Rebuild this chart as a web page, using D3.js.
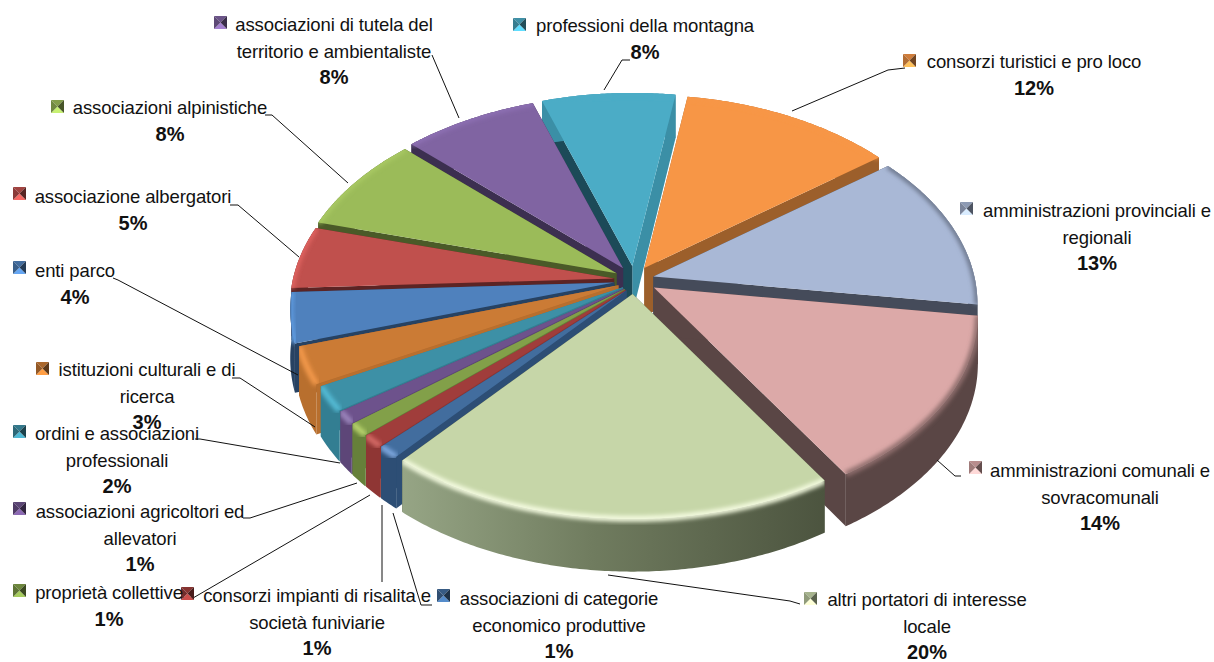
<!DOCTYPE html>
<html>
<head>
<meta charset="utf-8">
<script src="https://cdn.jsdelivr.net/npm/d3@7"></script>
<style>
html, body { margin: 0; padding: 0; background: #fff; }
svg { display: block; }
text { font-family: "Liberation Sans", Arial, sans-serif; fill: #111; }
</style>
</head>
<body>
<div id="chart"></div>
<script>
// slices clockwise, starting from the orange one at the top
const names = [
    ["consorzi turistici e pro loco"],
    ["amministrazioni provinciali e", "regionali"],
    ["amministrazioni comunali e", "sovracomunali"],
    ["altri portatori di interesse", "locale"],
    ["associazioni di categorie", "economico produttive"],
    ["consorzi impianti di risalita e", "società funiviarie"],
    ["proprietà collettive"],
    ["associazioni agricoltori ed", "allevatori"],
    ["ordini e associazioni", "professionali"],
    ["istituzioni culturali e di", "ricerca"],
    ["enti parco"],
    ["associazione albergatori"],
    ["associazioni alpinistiche"],
    ["associazioni di tutela del", "territorio e ambientaliste"],
    ["professioni della montagna"]
];
// the labels show them rounded
const values = [12.2, 12.5, 13.8, 20.2, 1, 1, 1, 1, 2, 3, 4, 5, 7.75, 7.75, 7.75];

const topColors = ["#f79646", "#a9b8d6", "#dca9a8", "#c6d6a8", "#426d9e", "#a03d3b", "#82a049", "#6d528c", "#3d90a6", "#cb7b35", "#4f81bd", "#c0504d", "#9bbb59", "#8064a2", "#4bacc6"];
const wallColors = ["#9c5f2b", "#454b5a", "#5a4645", "#4c543f", "#2d4e75", "#8f3634", "#66803a", "#5d4678", "#337e92", "#b86f2e", "#274262", "#5c2424", "#4a5a28", "#3c2f50", "#1c4a58"];
const endWallColors = ["#9c5f2b", "#454b5a", "#5a4645", "#4c543f", "#2d4e75", "#8f3634", "#66803a", "#5d4678", "#337e92", "#a8652c", "#274262", "#5c2424", "#4a5a28", "#3c2f50", "#3b8fa6"];
const rimColors = ["#f79646", "#6f7a90", "#8f6e6d", "#f4fbe0", "#7fa9e0", "#d46a66", "#b9d46e", "#9c86bd", "#55bcd6", "#f3994b", "#5f9be0", "#e06460", "#a9c964", "#8d70b3", "#4bacc6"];

// label placement: [text centre x, first line y, key x, key y]
const labelPos = [
    [1034, 68, 903, 54], [1097, 217, 960, 202], [1100, 477, 969, 461], [927, 606, 804, 592],
    [559, 605, 437, 589], [317, 602, 181, 587], [109, 599, 13, 584], [140, 518, 13, 502],
    [117, 440, 13, 425], [147, 376, 36, 362], [75, 277, 13, 261], [133, 203, 13, 187],
    [170, 114, 51, 100], [334, 31, 214, 16], [645, 32, 513, 18]
];
const leaders = [
    [[905, 68], [888, 70], [792, 111]], null, [[961, 476], [955, 476], [937, 460]], [[800, 604], [790, 601], [608, 575]],
    [[432, 605], [421, 605], [393, 513]], [[382, 582], [382, 505]], [[183, 598], [193, 598], [370, 495]], [[243, 518], [250, 518], [357, 483]],
    [[195, 439], [200, 439], [340, 463]], [[232, 378], [240, 378], [315, 427]], [[113, 278], [118, 280], [298, 375]], [[230, 205], [238, 205], [299, 257]],
    [[265, 115], [272, 115], [348, 183]], [[432, 55], [459, 118]], [[630, 60], [622, 60], [604, 90]]
];
// extra horizontal offset per slice, the explosion in the original is not even
const nudgeX = [0, 0, 3, 0, 6, 6, 6, 6, 6, 3, 0, 0, 0, 0, 0];

const width = 1214, height = 662;
const cx = 634, cy = 280, rx = 321, ry = 199, perspX = 0.14, perspY = 0.13, depth = 48, explodeX = 20, explodeY = 14;

const svg = d3.select("#chart").append("svg").attr("width", width).attr("height", height);
const defs = svg.append("defs");
defs.append("filter").attr("id", "soft").append("feGaussianBlur").attr("stdDeviation", 2);
const grad = defs.append("linearGradient").attr("id", "frontWall");
grad.append("stop").attr("offset", "0%").attr("stop-color", "#96a585");
grad.append("stop").attr("offset", "45%").attr("stop-color", "#707c5f");
grad.append("stop").attr("offset", "100%").attr("stop-color", "#4c543f");

const pie = d3.pie().sort(null).startAngle(9 * Math.PI / 180).endAngle(369 * Math.PI / 180);
const slices = pie(values).map((d, i) => ({...d, i, mid: (d.startAngle + d.endAngle) / 2}));

function project(a, r, ox, oy, z) {
    let u = r * Math.sin(a), v = -r * Math.cos(a);
    return [cx + ox + rx * u * (1 + perspX * v), cy + oy + ry * v * (1 + perspY * v) + z * (1 + 0.1 * v)];
}

const line = d3.line();

function drawSlice(g, d) {
    let ox = explodeX * Math.sin(d.mid) + nudgeX[d.i], oy = -explodeY * Math.cos(d.mid);
    let rim = d3.range(d.startAngle, d.endAngle, 0.01).concat([d.endAngle]);
    let topRim = rim.map(a => project(a, 1, ox, oy, 0));
    let lowRim = rim.map(a => project(a, 1, ox, oy, depth));
    let apex = project(0, 0, ox, oy, 0), apexLow = project(0, 0, ox, oy, depth);
    let n = topRim.length - 1;
    let wall = d.i === 3 ? "url(#frontWall)" : wallColors[d.i];
    let outer = topRim.concat(lowRim.slice().reverse());
    let top = [apex].concat(topRim);

    g.append("path").attr("d", line([apex, topRim[n], lowRim[n], apexLow]) + "Z").attr("fill", endWallColors[d.i]);
    g.append("path").attr("d", line([apex, topRim[0], lowRim[0], apexLow]) + "Z").attr("fill", wallColors[d.i]);
    g.append("path").attr("d", line(outer) + "Z").attr("fill", d.i === 14 ? endWallColors[d.i] : wall);
    g.append("path").attr("d", line(top) + "Z").attr("fill", topColors[d.i]);

    let clipId = "clip" + d.i;
    let clip = defs.append("clipPath").attr("id", clipId);
    clip.append("path").attr("d", line(outer) + "Z");
    clip.append("path").attr("d", line(top) + "Z");
    g.append("g").attr("clip-path", "url(#" + clipId + ")")
        .append("path").attr("d", line(topRim)).attr("fill", "none")
        .attr("stroke", rimColors[d.i]).attr("stroke-width", 6).attr("filter", "url(#soft)");
}

// back slices first so the front ones cover them
slices.slice().sort((a, b) => Math.cos(b.mid) - Math.cos(a.mid)).forEach(d => drawSlice(svg.append("g"), d));

// leader lines
svg.append("g").selectAll("path").data(leaders.filter(l => l)).enter().append("path")
    .attr("d", d => line(d)).attr("fill", "none").attr("stroke", "#111").attr("stroke-width", 1);

// legend keys and labels
const keySize = 13;
slices.forEach(d => {
    let p = labelPos[d.i], g = svg.append("g").attr("transform", "translate(" + p[2] + "," + p[3] + ")");
    let c = topColors[d.i], s = keySize, m = s / 2;
    let parts = [
        [[[0, 0], [s, 0], [m, m]], d3.color(c).darker(0.5)],
        [[[0, s], [s, s], [m, m]], d3.color(c).brighter(0.7)],
        [[[0, 0], [0, s], [m, m]], d3.color(c).darker(0.9)],
        [[[s, 0], [s, s], [m, m]], d3.color(c).darker(2.2)]
    ];
    parts.forEach(t => g.append("path").attr("d", line(t[0]) + "Z").attr("fill", t[1]));

    let lines = names[d.i];
    lines.forEach((t, k) => {
        svg.append("text").attr("x", p[0]).attr("y", p[1] + k * 26.5).attr("text-anchor", "middle")
            .attr("font-size", 18.5).attr("letter-spacing", "-0.12").text(t);
    });
    svg.append("text").attr("x", p[0]).attr("y", p[1] + lines.length * 26.5).attr("text-anchor", "middle")
        .attr("font-size", 20).attr("font-weight", "bold").text(Math.round(values[d.i]) + "%");
});
</script>
</body>
</html>
